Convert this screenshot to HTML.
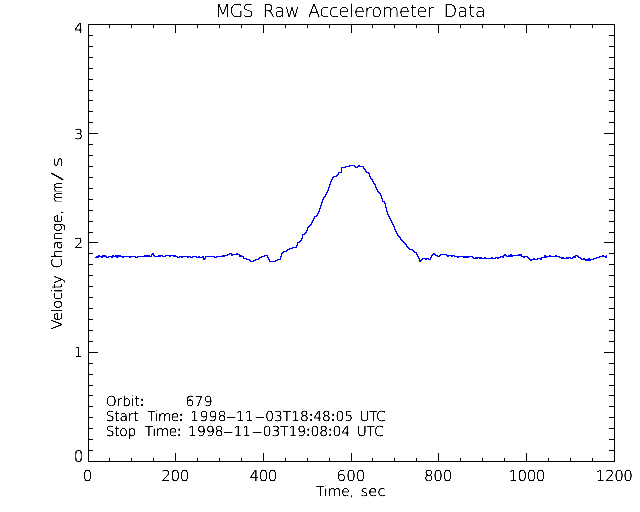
<!DOCTYPE html>
<html lang="en"><head><meta charset="utf-8"><title>MGS Raw Accelerometer Data</title>
<style>html,body{margin:0;padding:0;background:#fff;width:640px;height:512px;overflow:hidden}svg{display:block}text{font-weight:200}.b{font-family:"DejaVu Sans","Liberation Sans",sans-serif;font-weight:400}</style>
</head><body>
<svg width="640" height="512" viewBox="0 0 640 512" shape-rendering="crispEdges" font-family="DejaVu Sans Light, DejaVu Sans, Liberation Sans, sans-serif" fill="#000">
<defs><filter id="fT" x="0" y="0" width="100%" height="100%" filterUnits="userSpaceOnUse" color-interpolation-filters="sRGB"><feComponentTransfer><feFuncA type="linear" slope="4" intercept="-1.1"/></feComponentTransfer></filter><filter id="fL" x="0" y="0" width="100%" height="100%" filterUnits="userSpaceOnUse" color-interpolation-filters="sRGB"><feComponentTransfer><feFuncA type="linear" slope="4" intercept="-0.75"/></feComponentTransfer></filter><filter id="fS" x="0" y="0" width="100%" height="100%" filterUnits="userSpaceOnUse" color-interpolation-filters="sRGB"><feComponentTransfer><feFuncA type="linear" slope="4" intercept="-0.6"/></feComponentTransfer></filter></defs>
<rect x="88" y="24" width="527" height="1" fill="#000"/>
<rect x="88" y="461" width="527" height="1" fill="#000"/>
<rect x="88" y="24" width="1" height="438" fill="#000"/>
<rect x="614" y="24" width="1" height="438" fill="#000"/>
<rect x="88" y="453" width="1" height="9" fill="#000"/>
<rect x="88" y="24" width="1" height="9" fill="#000"/>
<rect x="109" y="458" width="1" height="4" fill="#000"/>
<rect x="109" y="24" width="1" height="4" fill="#000"/>
<rect x="131" y="458" width="1" height="4" fill="#000"/>
<rect x="131" y="24" width="1" height="4" fill="#000"/>
<rect x="153" y="458" width="1" height="4" fill="#000"/>
<rect x="153" y="24" width="1" height="4" fill="#000"/>
<rect x="175" y="453" width="1" height="9" fill="#000"/>
<rect x="175" y="24" width="1" height="9" fill="#000"/>
<rect x="197" y="458" width="1" height="4" fill="#000"/>
<rect x="197" y="24" width="1" height="4" fill="#000"/>
<rect x="219" y="458" width="1" height="4" fill="#000"/>
<rect x="219" y="24" width="1" height="4" fill="#000"/>
<rect x="241" y="458" width="1" height="4" fill="#000"/>
<rect x="241" y="24" width="1" height="4" fill="#000"/>
<rect x="263" y="453" width="1" height="9" fill="#000"/>
<rect x="263" y="24" width="1" height="9" fill="#000"/>
<rect x="285" y="458" width="1" height="4" fill="#000"/>
<rect x="285" y="24" width="1" height="4" fill="#000"/>
<rect x="307" y="458" width="1" height="4" fill="#000"/>
<rect x="307" y="24" width="1" height="4" fill="#000"/>
<rect x="329" y="458" width="1" height="4" fill="#000"/>
<rect x="329" y="24" width="1" height="4" fill="#000"/>
<rect x="351" y="453" width="1" height="9" fill="#000"/>
<rect x="351" y="24" width="1" height="9" fill="#000"/>
<rect x="372" y="458" width="1" height="4" fill="#000"/>
<rect x="372" y="24" width="1" height="4" fill="#000"/>
<rect x="394" y="458" width="1" height="4" fill="#000"/>
<rect x="394" y="24" width="1" height="4" fill="#000"/>
<rect x="416" y="458" width="1" height="4" fill="#000"/>
<rect x="416" y="24" width="1" height="4" fill="#000"/>
<rect x="438" y="453" width="1" height="9" fill="#000"/>
<rect x="438" y="24" width="1" height="9" fill="#000"/>
<rect x="460" y="458" width="1" height="4" fill="#000"/>
<rect x="460" y="24" width="1" height="4" fill="#000"/>
<rect x="482" y="458" width="1" height="4" fill="#000"/>
<rect x="482" y="24" width="1" height="4" fill="#000"/>
<rect x="504" y="458" width="1" height="4" fill="#000"/>
<rect x="504" y="24" width="1" height="4" fill="#000"/>
<rect x="526" y="453" width="1" height="9" fill="#000"/>
<rect x="526" y="24" width="1" height="9" fill="#000"/>
<rect x="548" y="458" width="1" height="4" fill="#000"/>
<rect x="548" y="24" width="1" height="4" fill="#000"/>
<rect x="570" y="458" width="1" height="4" fill="#000"/>
<rect x="570" y="24" width="1" height="4" fill="#000"/>
<rect x="592" y="458" width="1" height="4" fill="#000"/>
<rect x="592" y="24" width="1" height="4" fill="#000"/>
<rect x="614" y="453" width="1" height="9" fill="#000"/>
<rect x="614" y="24" width="1" height="9" fill="#000"/>
<rect x="88" y="461" width="10" height="1" fill="#000"/>
<rect x="604" y="461" width="11" height="1" fill="#000"/>
<rect x="88" y="450" width="5" height="1" fill="#000"/>
<rect x="609" y="450" width="6" height="1" fill="#000"/>
<rect x="88" y="439" width="5" height="1" fill="#000"/>
<rect x="609" y="439" width="6" height="1" fill="#000"/>
<rect x="88" y="428" width="5" height="1" fill="#000"/>
<rect x="609" y="428" width="6" height="1" fill="#000"/>
<rect x="88" y="417" width="5" height="1" fill="#000"/>
<rect x="609" y="417" width="6" height="1" fill="#000"/>
<rect x="88" y="406" width="5" height="1" fill="#000"/>
<rect x="609" y="406" width="6" height="1" fill="#000"/>
<rect x="88" y="395" width="5" height="1" fill="#000"/>
<rect x="609" y="395" width="6" height="1" fill="#000"/>
<rect x="88" y="385" width="5" height="1" fill="#000"/>
<rect x="609" y="385" width="6" height="1" fill="#000"/>
<rect x="88" y="374" width="5" height="1" fill="#000"/>
<rect x="609" y="374" width="6" height="1" fill="#000"/>
<rect x="88" y="363" width="5" height="1" fill="#000"/>
<rect x="609" y="363" width="6" height="1" fill="#000"/>
<rect x="88" y="352" width="10" height="1" fill="#000"/>
<rect x="604" y="352" width="11" height="1" fill="#000"/>
<rect x="88" y="341" width="5" height="1" fill="#000"/>
<rect x="609" y="341" width="6" height="1" fill="#000"/>
<rect x="88" y="330" width="5" height="1" fill="#000"/>
<rect x="609" y="330" width="6" height="1" fill="#000"/>
<rect x="88" y="319" width="5" height="1" fill="#000"/>
<rect x="609" y="319" width="6" height="1" fill="#000"/>
<rect x="88" y="308" width="5" height="1" fill="#000"/>
<rect x="609" y="308" width="6" height="1" fill="#000"/>
<rect x="88" y="297" width="5" height="1" fill="#000"/>
<rect x="609" y="297" width="6" height="1" fill="#000"/>
<rect x="88" y="286" width="5" height="1" fill="#000"/>
<rect x="609" y="286" width="6" height="1" fill="#000"/>
<rect x="88" y="275" width="5" height="1" fill="#000"/>
<rect x="609" y="275" width="6" height="1" fill="#000"/>
<rect x="88" y="264" width="5" height="1" fill="#000"/>
<rect x="609" y="264" width="6" height="1" fill="#000"/>
<rect x="88" y="253" width="5" height="1" fill="#000"/>
<rect x="609" y="253" width="6" height="1" fill="#000"/>
<rect x="88" y="242" width="10" height="1" fill="#000"/>
<rect x="604" y="242" width="11" height="1" fill="#000"/>
<rect x="88" y="232" width="5" height="1" fill="#000"/>
<rect x="609" y="232" width="6" height="1" fill="#000"/>
<rect x="88" y="221" width="5" height="1" fill="#000"/>
<rect x="609" y="221" width="6" height="1" fill="#000"/>
<rect x="88" y="210" width="5" height="1" fill="#000"/>
<rect x="609" y="210" width="6" height="1" fill="#000"/>
<rect x="88" y="199" width="5" height="1" fill="#000"/>
<rect x="609" y="199" width="6" height="1" fill="#000"/>
<rect x="88" y="188" width="5" height="1" fill="#000"/>
<rect x="609" y="188" width="6" height="1" fill="#000"/>
<rect x="88" y="177" width="5" height="1" fill="#000"/>
<rect x="609" y="177" width="6" height="1" fill="#000"/>
<rect x="88" y="166" width="5" height="1" fill="#000"/>
<rect x="609" y="166" width="6" height="1" fill="#000"/>
<rect x="88" y="155" width="5" height="1" fill="#000"/>
<rect x="609" y="155" width="6" height="1" fill="#000"/>
<rect x="88" y="144" width="5" height="1" fill="#000"/>
<rect x="609" y="144" width="6" height="1" fill="#000"/>
<rect x="88" y="133" width="10" height="1" fill="#000"/>
<rect x="604" y="133" width="11" height="1" fill="#000"/>
<rect x="88" y="122" width="5" height="1" fill="#000"/>
<rect x="609" y="122" width="6" height="1" fill="#000"/>
<rect x="88" y="111" width="5" height="1" fill="#000"/>
<rect x="609" y="111" width="6" height="1" fill="#000"/>
<rect x="88" y="100" width="5" height="1" fill="#000"/>
<rect x="609" y="100" width="6" height="1" fill="#000"/>
<rect x="88" y="90" width="5" height="1" fill="#000"/>
<rect x="609" y="90" width="6" height="1" fill="#000"/>
<rect x="88" y="79" width="5" height="1" fill="#000"/>
<rect x="609" y="79" width="6" height="1" fill="#000"/>
<rect x="88" y="68" width="5" height="1" fill="#000"/>
<rect x="609" y="68" width="6" height="1" fill="#000"/>
<rect x="88" y="57" width="5" height="1" fill="#000"/>
<rect x="609" y="57" width="6" height="1" fill="#000"/>
<rect x="88" y="46" width="5" height="1" fill="#000"/>
<rect x="609" y="46" width="6" height="1" fill="#000"/>
<rect x="88" y="35" width="5" height="1" fill="#000"/>
<rect x="609" y="35" width="6" height="1" fill="#000"/>
<rect x="88" y="24" width="10" height="1" fill="#000"/>
<rect x="604" y="24" width="11" height="1" fill="#000"/>
<g fill="#0000ff"><rect x="95" y="257" width="1" height="1"/><rect x="96" y="256" width="1" height="2"/><rect x="97" y="256" width="1" height="2"/><rect x="98" y="255" width="1" height="3"/><rect x="99" y="255" width="1" height="2"/><rect x="100" y="256" width="1" height="1"/><rect x="101" y="256" width="1" height="2"/><rect x="102" y="255" width="1" height="3"/><rect x="103" y="255" width="1" height="2"/><rect x="104" y="255" width="1" height="2"/><rect x="105" y="255" width="1" height="2"/><rect x="106" y="256" width="1" height="2"/><rect x="107" y="257" width="1" height="1"/><rect x="108" y="256" width="1" height="2"/><rect x="109" y="256" width="1" height="1"/><rect x="110" y="256" width="1" height="1"/><rect x="111" y="256" width="1" height="2"/><rect x="112" y="255" width="1" height="3"/><rect x="113" y="255" width="1" height="2"/><rect x="114" y="256" width="1" height="1"/><rect x="115" y="255" width="1" height="2"/><rect x="116" y="255" width="1" height="3"/><rect x="117" y="255" width="1" height="3"/><rect x="118" y="255" width="1" height="2"/><rect x="119" y="255" width="1" height="2"/><rect x="120" y="255" width="1" height="2"/><rect x="121" y="256" width="1" height="1"/><rect x="122" y="256" width="1" height="2"/><rect x="123" y="256" width="1" height="2"/><rect x="124" y="256" width="1" height="1"/><rect x="125" y="256" width="1" height="1"/><rect x="126" y="256" width="1" height="1"/><rect x="127" y="256" width="1" height="1"/><rect x="128" y="256" width="1" height="1"/><rect x="129" y="256" width="1" height="2"/><rect x="130" y="256" width="1" height="2"/><rect x="131" y="256" width="1" height="1"/><rect x="132" y="256" width="1" height="1"/><rect x="133" y="256" width="1" height="1"/><rect x="134" y="256" width="1" height="1"/><rect x="135" y="256" width="1" height="2"/><rect x="136" y="257" width="1" height="1"/><rect x="137" y="256" width="1" height="2"/><rect x="138" y="256" width="1" height="1"/><rect x="139" y="256" width="1" height="1"/><rect x="140" y="256" width="1" height="1"/><rect x="141" y="256" width="1" height="1"/><rect x="142" y="256" width="1" height="1"/><rect x="143" y="256" width="1" height="1"/><rect x="144" y="255" width="1" height="2"/><rect x="145" y="255" width="1" height="2"/><rect x="146" y="255" width="1" height="2"/><rect x="147" y="255" width="1" height="2"/><rect x="148" y="255" width="1" height="2"/><rect x="149" y="255" width="1" height="2"/><rect x="150" y="256" width="1" height="1"/><rect x="151" y="254" width="1" height="3"/><rect x="152" y="253" width="1" height="2"/><rect x="153" y="253" width="1" height="3"/><rect x="154" y="255" width="1" height="2"/><rect x="155" y="256" width="1" height="1"/><rect x="156" y="256" width="1" height="1"/><rect x="157" y="256" width="1" height="1"/><rect x="158" y="255" width="1" height="2"/><rect x="159" y="255" width="1" height="2"/><rect x="160" y="255" width="1" height="2"/><rect x="161" y="255" width="1" height="1"/><rect x="162" y="255" width="1" height="2"/><rect x="163" y="256" width="1" height="1"/><rect x="164" y="256" width="1" height="1"/><rect x="165" y="255" width="1" height="2"/><rect x="166" y="255" width="1" height="1"/><rect x="167" y="255" width="1" height="1"/><rect x="168" y="255" width="1" height="1"/><rect x="169" y="255" width="1" height="2"/><rect x="170" y="255" width="1" height="2"/><rect x="171" y="255" width="1" height="1"/><rect x="172" y="255" width="1" height="1"/><rect x="173" y="255" width="1" height="2"/><rect x="174" y="255" width="1" height="2"/><rect x="175" y="255" width="1" height="2"/><rect x="176" y="256" width="1" height="1"/><rect x="177" y="256" width="1" height="2"/><rect x="178" y="257" width="1" height="1"/><rect x="179" y="256" width="1" height="2"/><rect x="180" y="256" width="1" height="1"/><rect x="181" y="256" width="1" height="2"/><rect x="182" y="256" width="1" height="2"/><rect x="183" y="256" width="1" height="1"/><rect x="184" y="256" width="1" height="1"/><rect x="185" y="256" width="1" height="1"/><rect x="186" y="256" width="1" height="1"/><rect x="187" y="256" width="1" height="2"/><rect x="188" y="256" width="1" height="2"/><rect x="189" y="256" width="1" height="1"/><rect x="190" y="256" width="1" height="2"/><rect x="191" y="257" width="1" height="1"/><rect x="192" y="256" width="1" height="2"/><rect x="193" y="256" width="1" height="1"/><rect x="194" y="256" width="1" height="1"/><rect x="195" y="256" width="1" height="1"/><rect x="196" y="256" width="1" height="2"/><rect x="197" y="257" width="1" height="1"/><rect x="198" y="256" width="1" height="2"/><rect x="199" y="256" width="1" height="2"/><rect x="200" y="257" width="1" height="1"/><rect x="201" y="257" width="1" height="1"/><rect x="202" y="256" width="1" height="2"/><rect x="203" y="256" width="1" height="4"/><rect x="204" y="258" width="1" height="2"/><rect x="205" y="256" width="1" height="3"/><rect x="206" y="256" width="1" height="1"/><rect x="207" y="256" width="1" height="1"/><rect x="208" y="256" width="1" height="1"/><rect x="209" y="256" width="1" height="1"/><rect x="210" y="256" width="1" height="1"/><rect x="211" y="256" width="1" height="1"/><rect x="212" y="256" width="1" height="1"/><rect x="213" y="256" width="1" height="1"/><rect x="214" y="256" width="1" height="2"/><rect x="215" y="257" width="1" height="1"/><rect x="216" y="256" width="1" height="2"/><rect x="217" y="256" width="1" height="1"/><rect x="218" y="256" width="1" height="1"/><rect x="219" y="256" width="1" height="1"/><rect x="220" y="256" width="1" height="1"/><rect x="221" y="256" width="1" height="1"/><rect x="222" y="255" width="1" height="2"/><rect x="223" y="255" width="1" height="2"/><rect x="224" y="255" width="1" height="2"/><rect x="225" y="255" width="1" height="1"/><rect x="226" y="255" width="1" height="1"/><rect x="227" y="254" width="1" height="2"/><rect x="228" y="254" width="1" height="1"/><rect x="229" y="253" width="1" height="2"/><rect x="230" y="253" width="1" height="1"/><rect x="231" y="253" width="1" height="3"/><rect x="232" y="254" width="1" height="2"/><rect x="233" y="254" width="1" height="1"/><rect x="234" y="254" width="1" height="1"/><rect x="235" y="254" width="1" height="1"/><rect x="236" y="253" width="1" height="2"/><rect x="237" y="253" width="1" height="2"/><rect x="238" y="254" width="1" height="1"/><rect x="239" y="254" width="1" height="3"/><rect x="240" y="255" width="1" height="2"/><rect x="241" y="255" width="1" height="2"/><rect x="242" y="256" width="1" height="1"/><rect x="243" y="256" width="1" height="3"/><rect x="244" y="258" width="1" height="1"/><rect x="245" y="258" width="1" height="1"/><rect x="246" y="258" width="1" height="2"/><rect x="247" y="259" width="1" height="1"/><rect x="248" y="259" width="1" height="1"/><rect x="249" y="259" width="1" height="2"/><rect x="250" y="260" width="1" height="2"/><rect x="251" y="261" width="1" height="1"/><rect x="252" y="261" width="1" height="1"/><rect x="253" y="260" width="1" height="2"/><rect x="254" y="260" width="1" height="1"/><rect x="255" y="259" width="1" height="2"/><rect x="256" y="259" width="1" height="1"/><rect x="257" y="259" width="1" height="1"/><rect x="258" y="258" width="1" height="2"/><rect x="259" y="257" width="1" height="2"/><rect x="260" y="257" width="1" height="1"/><rect x="261" y="256" width="1" height="2"/><rect x="262" y="256" width="1" height="1"/><rect x="263" y="256" width="1" height="1"/><rect x="264" y="255" width="1" height="2"/><rect x="265" y="255" width="1" height="1"/><rect x="266" y="255" width="1" height="1"/><rect x="267" y="255" width="1" height="3"/><rect x="268" y="257" width="1" height="3"/><rect x="269" y="259" width="1" height="3"/><rect x="270" y="261" width="1" height="1"/><rect x="271" y="261" width="1" height="1"/><rect x="272" y="261" width="1" height="1"/><rect x="273" y="261" width="1" height="1"/><rect x="274" y="261" width="1" height="1"/><rect x="275" y="260" width="1" height="2"/><rect x="276" y="260" width="1" height="1"/><rect x="277" y="259" width="1" height="2"/><rect x="278" y="259" width="1" height="1"/><rect x="279" y="259" width="1" height="1"/><rect x="280" y="256" width="1" height="4"/><rect x="281" y="253" width="1" height="4"/><rect x="282" y="252" width="1" height="2"/><rect x="283" y="251" width="1" height="2"/><rect x="284" y="251" width="1" height="1"/><rect x="285" y="251" width="1" height="1"/><rect x="286" y="250" width="1" height="2"/><rect x="287" y="249" width="1" height="2"/><rect x="288" y="249" width="1" height="1"/><rect x="289" y="248" width="1" height="2"/><rect x="290" y="248" width="1" height="1"/><rect x="291" y="248" width="1" height="1"/><rect x="292" y="247" width="1" height="2"/><rect x="293" y="247" width="1" height="1"/><rect x="294" y="247" width="1" height="1"/><rect x="295" y="247" width="1" height="1"/><rect x="296" y="245" width="1" height="3"/><rect x="297" y="242" width="1" height="4"/><rect x="298" y="242" width="1" height="1"/><rect x="299" y="241" width="1" height="2"/><rect x="300" y="240" width="1" height="2"/><rect x="301" y="238" width="1" height="3"/><rect x="302" y="234" width="1" height="5"/><rect x="303" y="234" width="1" height="1"/><rect x="304" y="233" width="1" height="2"/><rect x="305" y="232" width="1" height="2"/><rect x="306" y="230" width="1" height="3"/><rect x="307" y="227" width="1" height="4"/><rect x="308" y="226" width="1" height="2"/><rect x="309" y="225" width="1" height="2"/><rect x="310" y="224" width="1" height="2"/><rect x="311" y="222" width="1" height="3"/><rect x="312" y="220" width="1" height="3"/><rect x="313" y="218" width="1" height="3"/><rect x="314" y="216" width="1" height="3"/><rect x="315" y="216" width="1" height="1"/><rect x="316" y="215" width="1" height="2"/><rect x="317" y="213" width="1" height="3"/><rect x="318" y="211" width="1" height="3"/><rect x="319" y="208" width="1" height="4"/><rect x="320" y="205" width="1" height="4"/><rect x="321" y="202" width="1" height="4"/><rect x="322" y="199" width="1" height="4"/><rect x="323" y="197" width="1" height="3"/><rect x="324" y="196" width="1" height="2"/><rect x="325" y="194" width="1" height="3"/><rect x="326" y="192" width="1" height="3"/><rect x="327" y="190" width="1" height="3"/><rect x="328" y="187" width="1" height="4"/><rect x="329" y="184" width="1" height="4"/><rect x="330" y="181" width="1" height="4"/><rect x="331" y="179" width="1" height="3"/><rect x="332" y="177" width="1" height="3"/><rect x="333" y="176" width="1" height="2"/><rect x="334" y="176" width="1" height="1"/><rect x="335" y="176" width="1" height="1"/><rect x="336" y="175" width="1" height="2"/><rect x="337" y="174" width="1" height="2"/><rect x="338" y="172" width="1" height="3"/><rect x="339" y="172" width="1" height="1"/><rect x="340" y="172" width="1" height="1"/><rect x="341" y="167" width="1" height="6"/><rect x="342" y="167" width="1" height="1"/><rect x="343" y="167" width="1" height="1"/><rect x="344" y="167" width="1" height="1"/><rect x="345" y="166" width="1" height="2"/><rect x="346" y="166" width="1" height="1"/><rect x="347" y="166" width="1" height="1"/><rect x="348" y="166" width="1" height="1"/><rect x="349" y="165" width="1" height="2"/><rect x="350" y="165" width="1" height="1"/><rect x="351" y="165" width="1" height="1"/><rect x="352" y="165" width="1" height="1"/><rect x="353" y="165" width="1" height="1"/><rect x="354" y="165" width="1" height="2"/><rect x="355" y="166" width="1" height="2"/><rect x="356" y="167" width="1" height="1"/><rect x="357" y="166" width="1" height="2"/><rect x="358" y="165" width="1" height="2"/><rect x="359" y="165" width="1" height="2"/><rect x="360" y="166" width="1" height="1"/><rect x="361" y="166" width="1" height="1"/><rect x="362" y="166" width="1" height="1"/><rect x="363" y="166" width="1" height="3"/><rect x="364" y="168" width="1" height="2"/><rect x="365" y="169" width="1" height="3"/><rect x="366" y="171" width="1" height="2"/><rect x="367" y="172" width="1" height="1"/><rect x="368" y="172" width="1" height="2"/><rect x="369" y="173" width="1" height="4"/><rect x="370" y="176" width="1" height="3"/><rect x="371" y="178" width="1" height="2"/><rect x="372" y="179" width="1" height="3"/><rect x="373" y="181" width="1" height="3"/><rect x="374" y="183" width="1" height="2"/><rect x="375" y="184" width="1" height="4"/><rect x="376" y="187" width="1" height="3"/><rect x="377" y="189" width="1" height="3"/><rect x="378" y="191" width="1" height="2"/><rect x="379" y="192" width="1" height="2"/><rect x="380" y="193" width="1" height="3"/><rect x="381" y="195" width="1" height="4"/><rect x="382" y="198" width="1" height="4"/><rect x="383" y="201" width="1" height="1"/><rect x="384" y="201" width="1" height="3"/><rect x="385" y="203" width="1" height="5"/><rect x="386" y="207" width="1" height="5"/><rect x="387" y="211" width="1" height="4"/><rect x="388" y="214" width="1" height="3"/><rect x="389" y="216" width="1" height="3"/><rect x="390" y="218" width="1" height="3"/><rect x="391" y="220" width="1" height="3"/><rect x="392" y="222" width="1" height="3"/><rect x="393" y="224" width="1" height="3"/><rect x="394" y="226" width="1" height="4"/><rect x="395" y="229" width="1" height="3"/><rect x="396" y="231" width="1" height="3"/><rect x="397" y="233" width="1" height="3"/><rect x="398" y="235" width="1" height="2"/><rect x="399" y="236" width="1" height="2"/><rect x="400" y="237" width="1" height="3"/><rect x="401" y="239" width="1" height="2"/><rect x="402" y="240" width="1" height="2"/><rect x="403" y="241" width="1" height="2"/><rect x="404" y="242" width="1" height="2"/><rect x="405" y="243" width="1" height="2"/><rect x="406" y="244" width="1" height="3"/><rect x="407" y="246" width="1" height="2"/><rect x="408" y="247" width="1" height="2"/><rect x="409" y="248" width="1" height="2"/><rect x="410" y="249" width="1" height="1"/><rect x="411" y="249" width="1" height="1"/><rect x="412" y="249" width="1" height="2"/><rect x="413" y="250" width="1" height="2"/><rect x="414" y="251" width="1" height="2"/><rect x="415" y="252" width="1" height="1"/><rect x="416" y="252" width="1" height="3"/><rect x="417" y="254" width="1" height="3"/><rect x="418" y="256" width="1" height="3"/><rect x="419" y="258" width="1" height="4"/><rect x="420" y="260" width="1" height="2"/><rect x="421" y="259" width="1" height="2"/><rect x="422" y="258" width="1" height="2"/><rect x="423" y="258" width="1" height="1"/><rect x="424" y="258" width="1" height="1"/><rect x="425" y="258" width="1" height="2"/><rect x="426" y="258" width="1" height="2"/><rect x="427" y="258" width="1" height="1"/><rect x="428" y="258" width="1" height="2"/><rect x="429" y="259" width="1" height="1"/><rect x="430" y="257" width="1" height="3"/><rect x="431" y="255" width="1" height="3"/><rect x="432" y="254" width="1" height="2"/><rect x="433" y="253" width="1" height="2"/><rect x="434" y="253" width="1" height="2"/><rect x="435" y="254" width="1" height="2"/><rect x="436" y="255" width="1" height="1"/><rect x="437" y="255" width="1" height="2"/><rect x="438" y="256" width="1" height="1"/><rect x="439" y="255" width="1" height="2"/><rect x="440" y="254" width="1" height="2"/><rect x="441" y="254" width="1" height="1"/><rect x="442" y="254" width="1" height="1"/><rect x="443" y="254" width="1" height="1"/><rect x="444" y="254" width="1" height="1"/><rect x="445" y="254" width="1" height="1"/><rect x="446" y="254" width="1" height="2"/><rect x="447" y="255" width="1" height="2"/><rect x="448" y="255" width="1" height="2"/><rect x="449" y="255" width="1" height="1"/><rect x="450" y="255" width="1" height="1"/><rect x="451" y="255" width="1" height="2"/><rect x="452" y="255" width="1" height="2"/><rect x="453" y="255" width="1" height="1"/><rect x="454" y="255" width="1" height="2"/><rect x="455" y="256" width="1" height="1"/><rect x="456" y="256" width="1" height="1"/><rect x="457" y="256" width="1" height="2"/><rect x="458" y="256" width="1" height="2"/><rect x="459" y="256" width="1" height="1"/><rect x="460" y="256" width="1" height="1"/><rect x="461" y="256" width="1" height="1"/><rect x="462" y="256" width="1" height="1"/><rect x="463" y="256" width="1" height="2"/><rect x="464" y="256" width="1" height="2"/><rect x="465" y="256" width="1" height="2"/><rect x="466" y="256" width="1" height="2"/><rect x="467" y="256" width="1" height="2"/><rect x="468" y="256" width="1" height="2"/><rect x="469" y="256" width="1" height="1"/><rect x="470" y="256" width="1" height="1"/><rect x="471" y="256" width="1" height="1"/><rect x="472" y="256" width="1" height="2"/><rect x="473" y="257" width="1" height="2"/><rect x="474" y="258" width="1" height="1"/><rect x="475" y="257" width="1" height="2"/><rect x="476" y="257" width="1" height="2"/><rect x="477" y="257" width="1" height="2"/><rect x="478" y="257" width="1" height="1"/><rect x="479" y="257" width="1" height="2"/><rect x="480" y="257" width="1" height="2"/><rect x="481" y="257" width="1" height="2"/><rect x="482" y="258" width="1" height="1"/><rect x="483" y="258" width="1" height="1"/><rect x="484" y="257" width="1" height="2"/><rect x="485" y="257" width="1" height="2"/><rect x="486" y="258" width="1" height="1"/><rect x="487" y="258" width="1" height="1"/><rect x="488" y="258" width="1" height="1"/><rect x="489" y="258" width="1" height="1"/><rect x="490" y="258" width="1" height="1"/><rect x="491" y="257" width="1" height="2"/><rect x="492" y="257" width="1" height="2"/><rect x="493" y="258" width="1" height="1"/><rect x="494" y="258" width="1" height="1"/><rect x="495" y="257" width="1" height="2"/><rect x="496" y="257" width="1" height="1"/><rect x="497" y="257" width="1" height="2"/><rect x="498" y="257" width="1" height="2"/><rect x="499" y="257" width="1" height="1"/><rect x="500" y="256" width="1" height="2"/><rect x="501" y="256" width="1" height="1"/><rect x="502" y="256" width="1" height="2"/><rect x="503" y="255" width="1" height="3"/><rect x="504" y="254" width="1" height="2"/><rect x="505" y="254" width="1" height="2"/><rect x="506" y="255" width="1" height="2"/><rect x="507" y="256" width="1" height="1"/><rect x="508" y="255" width="1" height="2"/><rect x="509" y="255" width="1" height="2"/><rect x="510" y="254" width="1" height="3"/><rect x="511" y="254" width="1" height="3"/><rect x="512" y="255" width="1" height="2"/><rect x="513" y="255" width="1" height="1"/><rect x="514" y="255" width="1" height="1"/><rect x="515" y="255" width="1" height="1"/><rect x="516" y="255" width="1" height="1"/><rect x="517" y="255" width="1" height="1"/><rect x="518" y="254" width="1" height="2"/><rect x="519" y="254" width="1" height="2"/><rect x="520" y="254" width="1" height="2"/><rect x="521" y="254" width="1" height="3"/><rect x="522" y="256" width="1" height="1"/><rect x="523" y="256" width="1" height="2"/><rect x="524" y="256" width="1" height="2"/><rect x="525" y="256" width="1" height="1"/><rect x="526" y="256" width="1" height="1"/><rect x="527" y="256" width="1" height="2"/><rect x="528" y="257" width="1" height="2"/><rect x="529" y="258" width="1" height="2"/><rect x="530" y="259" width="1" height="2"/><rect x="531" y="259" width="1" height="2"/><rect x="532" y="259" width="1" height="1"/><rect x="533" y="258" width="1" height="2"/><rect x="534" y="258" width="1" height="2"/><rect x="535" y="259" width="1" height="1"/><rect x="536" y="259" width="1" height="1"/><rect x="537" y="258" width="1" height="2"/><rect x="538" y="258" width="1" height="1"/><rect x="539" y="258" width="1" height="1"/><rect x="540" y="258" width="1" height="2"/><rect x="541" y="257" width="1" height="3"/><rect x="542" y="257" width="1" height="1"/><rect x="543" y="257" width="1" height="1"/><rect x="544" y="255" width="1" height="3"/><rect x="545" y="255" width="1" height="3"/><rect x="546" y="256" width="1" height="2"/><rect x="547" y="256" width="1" height="1"/><rect x="548" y="256" width="1" height="1"/><rect x="549" y="255" width="1" height="2"/><rect x="550" y="255" width="1" height="2"/><rect x="551" y="256" width="1" height="1"/><rect x="552" y="256" width="1" height="1"/><rect x="553" y="256" width="1" height="1"/><rect x="554" y="256" width="1" height="1"/><rect x="555" y="255" width="1" height="2"/><rect x="556" y="255" width="1" height="2"/><rect x="557" y="256" width="1" height="1"/><rect x="558" y="256" width="1" height="1"/><rect x="559" y="256" width="1" height="2"/><rect x="560" y="257" width="1" height="1"/><rect x="561" y="257" width="1" height="2"/><rect x="562" y="257" width="1" height="2"/><rect x="563" y="257" width="1" height="2"/><rect x="564" y="258" width="1" height="1"/><rect x="565" y="258" width="1" height="1"/><rect x="566" y="257" width="1" height="2"/><rect x="567" y="257" width="1" height="2"/><rect x="568" y="257" width="1" height="2"/><rect x="569" y="257" width="1" height="1"/><rect x="570" y="257" width="1" height="2"/><rect x="571" y="258" width="1" height="1"/><rect x="572" y="257" width="1" height="2"/><rect x="573" y="256" width="1" height="2"/><rect x="574" y="256" width="1" height="2"/><rect x="575" y="255" width="1" height="3"/><rect x="576" y="255" width="1" height="1"/><rect x="577" y="255" width="1" height="2"/><rect x="578" y="256" width="1" height="2"/><rect x="579" y="257" width="1" height="1"/><rect x="580" y="257" width="1" height="2"/><rect x="581" y="258" width="1" height="2"/><rect x="582" y="259" width="1" height="1"/><rect x="583" y="258" width="1" height="2"/><rect x="584" y="258" width="1" height="2"/><rect x="585" y="259" width="1" height="2"/><rect x="586" y="259" width="1" height="2"/><rect x="587" y="259" width="1" height="2"/><rect x="588" y="258" width="1" height="3"/><rect x="589" y="258" width="1" height="3"/><rect x="590" y="259" width="1" height="2"/><rect x="591" y="259" width="1" height="1"/><rect x="592" y="259" width="1" height="1"/><rect x="593" y="258" width="1" height="2"/><rect x="594" y="258" width="1" height="1"/><rect x="595" y="258" width="1" height="1"/><rect x="596" y="257" width="1" height="2"/><rect x="597" y="257" width="1" height="1"/><rect x="598" y="257" width="1" height="1"/><rect x="599" y="256" width="1" height="2"/><rect x="600" y="256" width="1" height="1"/><rect x="601" y="256" width="1" height="1"/><rect x="602" y="255" width="1" height="2"/><rect x="603" y="255" width="1" height="2"/><rect x="604" y="256" width="1" height="1"/><rect x="605" y="256" width="1" height="2"/><rect x="606" y="255" width="1" height="3"/></g>
<g filter="url(#fT)">
<text transform="translate(351.0,17) rotate(0.04)" font-size="17.8" xml:space="preserve"><tspan x="-135.86" textLength="38.61" lengthAdjust="spacing">MGS</tspan> <tspan x="-88.49" textLength="36.93" lengthAdjust="spacing">Raw</tspan> <tspan x="-43.13" textLength="126.55" lengthAdjust="spacing">Accelerometer</tspan> <tspan x="92.64" textLength="42.38" lengthAdjust="spacing">Data</tspan></text>
</g>
<g filter="url(#fL)">
<text transform="translate(87.5,481) rotate(0.04)" font-size="15.1" xml:space="preserve"><tspan x="-4.78">0</tspan></text>
<text transform="translate(175.15,481) rotate(0.04)" font-size="15.1" xml:space="preserve"><tspan x="-13.90" textLength="28.15" lengthAdjust="spacing">200</tspan></text>
<text transform="translate(263.15,481) rotate(0.04)" font-size="15.1" xml:space="preserve"><tspan x="-13.59" textLength="27.84" lengthAdjust="spacing">400</tspan></text>
<text transform="translate(351.0,481) rotate(0.04)" font-size="15.1" xml:space="preserve"><tspan x="-14.47" textLength="28.87" lengthAdjust="spacing">600</tspan></text>
<text transform="translate(438.15,481) rotate(0.04)" font-size="15.1" xml:space="preserve"><tspan x="-14.27" textLength="28.52" lengthAdjust="spacing">800</tspan></text>
<text transform="translate(527.0,481) rotate(0.04)" font-size="15.1" xml:space="preserve"><tspan x="-18.66" textLength="37.06" lengthAdjust="spacing">1000</tspan></text>
<text transform="translate(614.5,481) rotate(0.04)" font-size="15.1" xml:space="preserve"><tspan x="-18.66" textLength="37.06" lengthAdjust="spacing">1200</tspan></text>
<text transform="translate(78.5,462) rotate(0.04)" font-size="15.1" xml:space="preserve"><tspan x="-4.78">0</tspan></text>
</g>
<g filter="url(#fS)">
<text transform="translate(350.5,496) rotate(0.04)" font-size="13.8" xml:space="preserve"><tspan x="-34.40" textLength="37.96" lengthAdjust="spacing">Time,</tspan> <tspan x="10.09" textLength="24.93" lengthAdjust="spacingAndGlyphs">sec</tspan></text>
<text transform="translate(78.5,33) rotate(0.04)" font-size="13.9" xml:space="preserve"><tspan x="-4.20">4</tspan></text>
<text transform="translate(78.5,139) rotate(0.04)" font-size="13.9" xml:space="preserve"><tspan x="-4.22">3</tspan></text>
<text transform="translate(78.5,248) rotate(0.04)" font-size="13.9" xml:space="preserve"><tspan x="-4.21">2</tspan></text>
<text transform="translate(78.25,357) rotate(0.04)" font-size="13.9" xml:space="preserve"><tspan x="-4.37">1</tspan></text>
<text transform="translate(62.0,243.6) rotate(-90.04)" font-size="14.5" xml:space="preserve"><tspan x="-85.84" textLength="54.22" lengthAdjust="spacing">Velocity</tspan> <tspan x="-25.00" textLength="58.76" lengthAdjust="spacing">Change,</tspan> <tspan x="41.14" textLength="19.95" lengthAdjust="spacingAndGlyphs">mm</tspan><tspan x="62.58" textLength="9.04" lengthAdjust="spacingAndGlyphs">/</tspan><tspan x="76.03" textLength="10.87" lengthAdjust="spacingAndGlyphs">s</tspan></text>
<text transform="translate(159.2,406) rotate(0.04)" font-size="13.8" xml:space="preserve"><tspan x="-53.33" textLength="38.61" lengthAdjust="spacing">Orbit<tspan class="b">:</tspan></tspan>      <tspan x="26.21" textLength="27.19" lengthAdjust="spacing">679</tspan></text>
<text transform="translate(246.0,421) rotate(0.04)" font-size="13.8" xml:space="preserve"><tspan x="-140.23" textLength="32.87" lengthAdjust="spacing">Start</tspan> <tspan x="-98.80" textLength="36.18" lengthAdjust="spacing">Time<tspan class="b">:</tspan></tspan> <tspan x="-55.82" textLength="36.32" lengthAdjust="spacing">1998</tspan><tspan x="-20.84" textLength="11.72" lengthAdjust="spacingAndGlyphs">-</tspan><tspan x="-9.92" textLength="17.53" lengthAdjust="spacing">11</tspan><tspan x="8.00" textLength="11.79" lengthAdjust="spacingAndGlyphs">-</tspan><tspan x="19.27" textLength="87.77" lengthAdjust="spacing">03T18<tspan class="b">:</tspan>48<tspan class="b">:</tspan>05</tspan> <tspan x="113.56" textLength="26.19" lengthAdjust="spacing">UTC</tspan></text>
<text transform="translate(244.9,436) rotate(0.04)" font-size="13.8" xml:space="preserve"><tspan x="-139.13" textLength="30.52" lengthAdjust="spacing">Stop</tspan> <tspan x="-100.20" textLength="36.88" lengthAdjust="spacing">Time<tspan class="b">:</tspan></tspan> <tspan x="-56.92" textLength="35.62" lengthAdjust="spacing">1998</tspan><tspan x="-22.70" textLength="11.79" lengthAdjust="spacingAndGlyphs">-</tspan><tspan x="-11.42" textLength="17.43" lengthAdjust="spacing">11</tspan><tspan x="6.15" textLength="12.20" lengthAdjust="spacingAndGlyphs">-</tspan><tspan x="17.77" textLength="87.34" lengthAdjust="spacing">03T19<tspan class="b">:</tspan>08<tspan class="b">:</tspan>04</tspan> <tspan x="111.76" textLength="26.89" lengthAdjust="spacing">UTC</tspan></text>
</g>

</svg>
</body></html>
